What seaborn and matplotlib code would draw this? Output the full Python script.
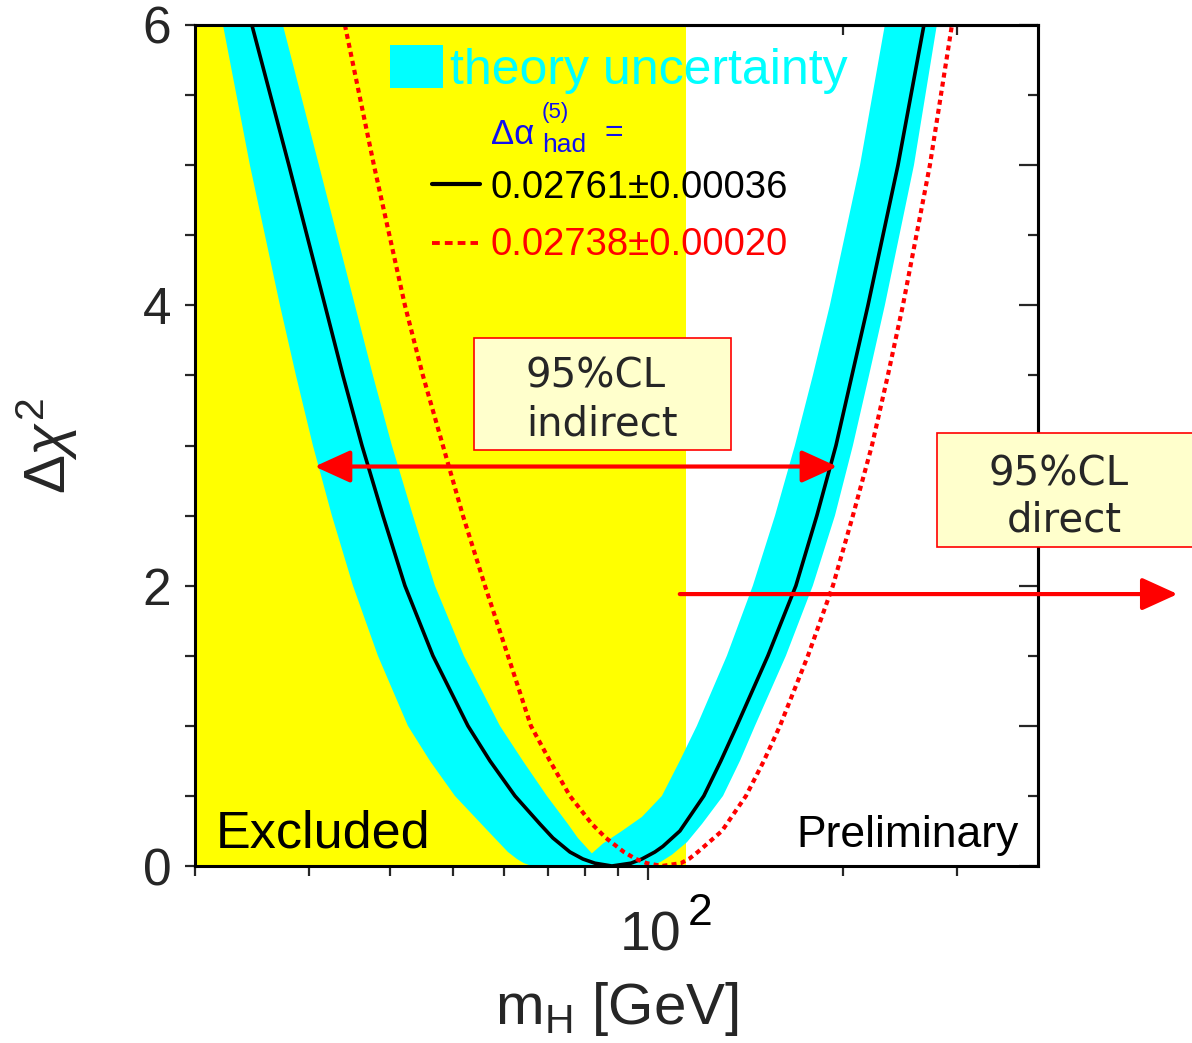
import numpy as np
import matplotlib
matplotlib.use("Agg")
import matplotlib.pyplot as plt
import seaborn as sns
from matplotlib.patches import Rectangle
from matplotlib.lines import Line2D
from matplotlib.ticker import NullFormatter, NullLocator
from matplotlib.transforms import ScaledTranslation

# ---------------- data ----------------
# black curve: Delta alpha_had = 0.02761 +- 0.00036
black_mh = [24.48, 27.92, 31.74, 33.83, 36.20, 39.00, 42.17, 46.58, 52.75, 57.05, 62.35,
            68.13, 71.35, 75.79, 79.37, 82.83, 87.99,
            94.14, 97.89, 102.52, 105.47, 112.04, 121.99, 129.6, 137.17, 153.18, 169.21,
            182.3, 195.1, 206.5, 218.6, 243.2, 266.7]
black_chi2 = [6, 5, 4, 3.5, 3, 2.5, 2, 1.5, 1, 0.75, 0.5,
              0.3, 0.2, 0.1, 0.05, 0.02, 0,
              0.02, 0.05, 0.1, 0.14, 0.25, 0.5, 0.75, 1, 1.5, 2,
              2.5, 3, 3.5, 4, 5, 6]

# red dotted curve: Delta alpha_had = 0.02738 +- 0.00020
red_mh = [34.07, 37.77, 42.17, 44.95, 48.26, 51.82, 56.04, 60.81, 65.98, 70.59, 75.79,
          81.95, 86.14, 91.82, 95.82, 99.64, 105.1,
          112.4, 115.7, 119.4, 130.1, 141.7, 151.0, 159.9, 176.6, 193.0, 207.2, 221.7,
          234.6, 247.5, 272.4, 294.6]
red_chi2 = [6, 5, 4, 3.5, 3, 2.5, 2, 1.5, 1, 0.75, 0.5,
            0.3, 0.2, 0.1, 0.05, 0.02, 0,
            0.02, 0.05, 0.1, 0.25, 0.5, 0.75, 1, 1.5, 2, 2.5, 3,
            3.5, 4, 5, 6]

# theory uncertainty band (cyan): outer and inner edges
band_outer_left_mh = [22.09, 24.31, 27.05, 28.63, 30.41, 32.53, 35.06, 38.31, 42.62, 46.09,
                      50.37, 56.64, 60.81, 62.79, 64.37, 66.22]
band_outer_left_chi2 = [6, 5, 4, 3.5, 3, 2.5, 2, 1.5, 1, 0.75,
                        0.5, 0.25, 0.1, 0.05, 0.02, 0]
band_outer_right_mh = [100.7, 104.7, 108.9, 114.9, 121.2, 130.6, 138.7, 146.3, 163.3, 179.7,
                       194.4, 207.2, 219.4, 232.1, 257.4, 279.2]
band_outer_right_chi2 = [0, 0.03, 0.08, 0.17, 0.3, 0.5, 0.75, 1, 1.5, 2,
                         2.5, 3, 3.5, 4, 5, 6]
band_inner_right_mh = [232.1, 212.5, 190.9, 179.7, 168.6, 157.1, 145.2, 132.4, 119.0, 112.0,
                       105.1, 97.89, 91.18, 85.22, 81.95]
band_inner_right_chi2 = [6, 5, 4, 3.5, 3, 2.5, 2, 1.5, 1, 0.75,
                         0.5, 0.35, 0.25, 0.16, 0.09]
band_inner_left_mh = [77.97, 75.25, 69.84, 64.13, 59.10, 52.00, 46.91, 43.39, 40.26, 37.64,
                      35.31, 31.07, 27.33]
band_inner_left_chi2 = [0.2, 0.3, 0.5, 0.75, 1, 1.5, 2, 2.5, 3, 3.5,
                        4, 5, 6]

excluded_limit = 114.4          # LEP direct search limit [GeV]
indirect_range = [30.6, 196.0]  # 95%CL indirect arrow ends [GeV]
indirect_level = 2.85
direct_range = [112.0, 657.0]   # 95%CL direct arrow [GeV]
direct_level = 1.94

legend_black = "0.02761\u00b10.00036"
legend_red = "0.02738\u00b10.00020"

# ---------------- style ----------------
sns.set_style("ticks")
plt.rcParams["font.family"] = ["Liberation Sans", "DejaVu Sans"]
plt.rcParams["mathtext.fontset"] = "custom"
plt.rcParams["mathtext.rm"] = "Liberation Sans"
plt.rcParams["mathtext.it"] = "Liberation Sans:italic"
plt.rcParams["mathtext.bf"] = "Liberation Sans:bold"
plt.rcParams["mathtext.sf"] = "Liberation Sans"

W, H = 1192, 1043
fig = plt.figure(figsize=(W / 100, H / 100), dpi=100)
L, R, T, B = 195, 1038, 25, 866
ax = fig.add_axes([L / W, 1 - B / H, (R - L) / W, (B - T) / H])
ax.set_facecolor("white")


def fx(px):
    return (px - L) / (R - L)


def fy(py):
    return (B - py) / (B - T)


ax.set_xscale("log")
ax.set_xlim(20, 400)
ax.set_ylim(0, 6)

# excluded region
ax.axvspan(20, excluded_limit, color="#ffff00", lw=0, zorder=0.5)

# theory band polygon
poly_x = (band_outer_left_mh + band_outer_right_mh + band_inner_right_mh + band_inner_left_mh)
poly_y = (band_outer_left_chi2 + band_outer_right_chi2 + band_inner_right_chi2 + band_inner_left_chi2)
ax.fill(poly_x, poly_y, color="#00ffff", lw=0, zorder=1)

# curves
sns.lineplot(x=black_mh, y=black_chi2, sort=False, estimator=None, ax=ax,
             color="black", lw=2.6, zorder=2)
sns.lineplot(x=red_mh, y=red_chi2, sort=False, estimator=None, ax=ax,
             color="#ff0000", lw=3.0, zorder=2.2, linestyle=(0, (1.2, 1.0)))

# ---------------- axes, ticks ----------------
for sp in ax.spines.values():
    sp.set_linewidth(2.2)
    sp.set_color("black")
    sp.set_zorder(5)
    sp.set_visible(True)

ax.set_xticks([100])
ax.set_xticklabels(["10"])
ax.set_xticks([20, 30, 40, 50, 60, 70, 80, 90, 200, 300], minor=True)
ax.xaxis.set_minor_formatter(NullFormatter())
ax.tick_params(axis="x", which="major", direction="out", length=10, width=1.6,
               labelsize=40, pad=22, top=False)
ax.tick_params(axis="x", which="minor", direction="out", length=7, width=1.6, top=False)
for lab in ax.get_xticklabels():
    lab.set_transform(lab.get_transform() + ScaledTranslation(2 / 72, 0, fig.dpi_scale_trans))
# exponent of the 10^2 tick label
ax.text(fx(688), fy(925), "2", transform=ax.transAxes, fontsize=32, color="black",
        ha="left", va="baseline", clip_on=False)

ax.set_yticks([0, 2, 4, 6])
ax.set_yticklabels(["0", "2", "4", "6"])
ax.set_yticks(np.arange(0, 6.01, 0.5), minor=True)
ax.tick_params(axis="y", which="both", direction="out", length=7, width=1.6,
               labelsize=37, pad=10, right=False)

secx = ax.secondary_xaxis("top")
secx.set_xticks([200, 300])
secx.set_xticklabels([])
secx.xaxis.set_minor_locator(NullLocator())
secx.tick_params(direction="in", length=7, width=1.6)
secx.spines["top"].set_linewidth(2.2)

secy = ax.secondary_yaxis("right")
secy.set_yticks([0, 1, 2, 3, 4, 5, 6])
secy.set_yticklabels([])
secy.set_yticks(np.arange(0.5, 6, 1), minor=True)
secy.tick_params(which="major", direction="in", length=14, width=1.6)
secy.tick_params(which="minor", direction="in", length=7, width=1.6)
secy.spines["right"].set_linewidth(2.2)

ax.set_xlabel(r"$\mathregular{m_H}$ [GeV]", fontsize=42)
ax.xaxis.set_label_coords(0.5, fy(980), transform=ax.transAxes)
ax.xaxis.label.set_va("top")
ax.set_ylabel(r"$\Delta\chi^2$", fontsize=42)
ax.yaxis.set_label_coords(fx(80), 0.5, transform=ax.transAxes)

# ---------------- legend block ----------------
tr = ax.transAxes
ax.add_patch(Rectangle((fx(390), fy(88)), (443 - 390) / (R - L), (88 - 45) / (B - T),
                       transform=tr, color="#00ffff", lw=0, zorder=6))
ax.text(fx(450), fy(84), "theory uncertainty", transform=tr, fontsize=36,
        color="#00ffff", ha="left", va="baseline", zorder=6)
blue = "#1010ee"
ax.text(fx(491), fy(144), "\u0394\u03b1", transform=tr, fontsize=25, color=blue,
        ha="left", va="baseline", zorder=6)
ax.text(fx(542), fy(118), "(5)", transform=tr, fontsize=16, color=blue,
        ha="left", va="baseline", zorder=6)
ax.text(fx(542), fy(152), "had", transform=tr, fontsize=19, color=blue,
        ha="left", va="baseline", zorder=6)
ax.text(fx(605), fy(141), "=", transform=tr, fontsize=23, color=blue,
        ha="left", va="baseline", zorder=6)

ax.add_line(Line2D([fx(432), fx(480)], [fy(184), fy(184)], transform=tr,
                   color="black", lw=3, zorder=6))
ax.text(fx(491), fy(198), legend_black, transform=tr, fontsize=27.5, color="black",
        ha="left", va="baseline", zorder=6)
ax.add_line(Line2D([fx(432), fx(478)], [fy(243), fy(243)], transform=tr,
                   color="#ff0000", lw=2.8, linestyle=(0, (2.0, 1.3)), zorder=6))
ax.text(fx(491), fy(255), legend_red, transform=tr, fontsize=27.5, color="#ff0000",
        ha="left", va="baseline", zorder=6)

ax.text(fx(216), fy(847), "Excluded", transform=tr, fontsize=37.5, color="black",
        ha="left", va="baseline", zorder=6)
ax.text(fx(1019), fy(847), "Preliminary", transform=tr, fontsize=32, color="black",
        ha="right", va="baseline", zorder=6)

# ---------------- 95%CL boxes ----------------
box_kw = dict(transform=tr, facecolor="#ffffcc", edgecolor="#ff0000", lw=1.2,
              zorder=7, clip_on=False)
ax.add_patch(Rectangle((fx(474), fy(450)), (731 - 474) / (R - L), (450 - 338) / (B - T), **box_kw))
ax.text(fx(596), fy(388), "95%CL", transform=tr, fontsize=29, family="DejaVu Sans",
        ha="center", va="baseline", zorder=8)
ax.text(fx(602), fy(436), "indirect", transform=tr, fontsize=29, family="DejaVu Sans",
        ha="center", va="baseline", zorder=8)
ax.add_patch(Rectangle((fx(937), fy(547)), (1250 - 937) / (R - L), (547 - 433) / (B - T), **box_kw))
ax.text(fx(1059), fy(485), "95%CL", transform=tr, fontsize=29, family="DejaVu Sans",
        ha="center", va="baseline", zorder=8, clip_on=False)
ax.text(fx(1064), fy(532), "direct", transform=tr, fontsize=29, family="DejaVu Sans",
        ha="center", va="baseline", zorder=8, clip_on=False)

# ---------------- arrows ----------------
ax.annotate("", xy=(indirect_range[0], indirect_level), xytext=(indirect_range[1], indirect_level),
            arrowprops=dict(arrowstyle="<|-|>,head_length=1.1,head_width=0.5", mutation_scale=20,
                            color="#ff0000", lw=3, shrinkA=0, shrinkB=0),
            zorder=9)
ax.annotate("", xy=(direct_range[1], direct_level), xytext=(direct_range[0], direct_level),
            arrowprops=dict(arrowstyle="-|>,head_length=1.1,head_width=0.5", mutation_scale=20,
                            color="#ff0000", lw=3, shrinkA=0, shrinkB=0),
            annotation_clip=False, zorder=9)

fig.savefig("out.png", dpi=100)
